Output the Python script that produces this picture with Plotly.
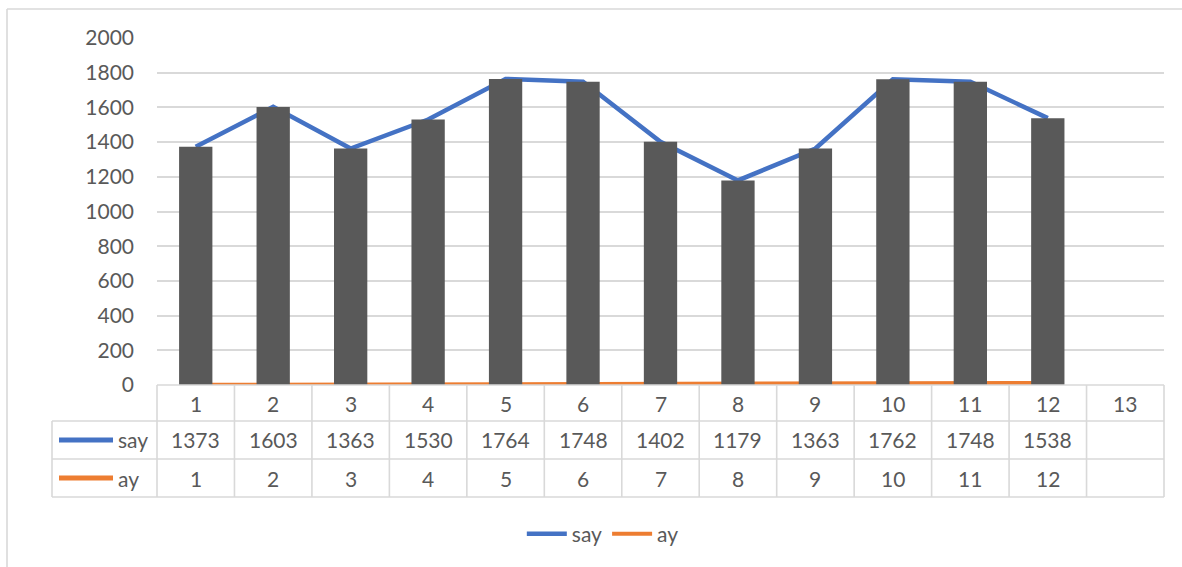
import plotly.graph_objects as go

# ---- data ----
categories = [str(i) for i in range(1, 14)]
say = [1373, 1603, 1363, 1530, 1764, 1748, 1402, 1179, 1363, 1762, 1748, 1538]
ay = [1, 2, 3, 4, 5, 6, 7, 8, 9, 10, 11, 12]
series_names = ["say", "ay"]
y_ticks = [0, 200, 400, 600, 800, 1000, 1200, 1400, 1600, 1800, 2000]

# ---- styles ----
W, H = 1182, 567
L, R, T, B = 157, 18, 38, 182
PW, PH = W - L - R, H - T - B
FONT = "Lato"
TXT = "#595959"
GRID = "#d9d9d9"
BLUE = "#4472C4"
ORANGE = "#ED7D31"
BARC = "#595959"
FS = 21


def px_x(px):
    return (px - L) / PW


def px_y(py):
    return (H - B - py) / PH


n_cat = len(categories)
fig = go.Figure()
fig.add_trace(go.Scatter(x=categories[:len(say)], y=say, mode="lines", name=series_names[0],
                         line=dict(color=BLUE, width=4.5)))
fig.add_trace(go.Scatter(x=categories[:len(ay)], y=ay, mode="lines", name=series_names[1],
                         line=dict(color=ORANGE, width=4)))
fig.add_trace(go.Bar(x=categories[:len(say)], y=say, marker=dict(color=BARC, line=dict(width=0)),
                     width=0.43, showlegend=False, yaxis="y2", hoverinfo="x+y"))

shapes = []
line_style = dict(color=GRID, width=1.6)
# table horizontal lines
shapes.append(dict(type="line", xref="paper", yref="paper", x0=0, x1=1, y0=0, y1=0, line=line_style))
for py in (421, 459, 497):
    shapes.append(dict(type="line", xref="paper", yref="paper", x0=px_x(52), x1=1,
                       y0=px_y(py), y1=px_y(py), line=line_style))
# table vertical lines
shapes.append(dict(type="line", xref="paper", yref="paper", x0=px_x(52), x1=px_x(52),
                   y0=px_y(421), y1=px_y(497), line=line_style))
for k in range(n_cat + 1):
    xp = k / n_cat
    shapes.append(dict(type="line", xref="paper", yref="paper", x0=xp, x1=xp,
                       y0=0, y1=px_y(497), line=line_style))
# series icons in table
for color, py in ((BLUE, 440), (ORANGE, 478)):
    shapes.append(dict(type="line", xref="paper", yref="paper", x0=px_x(59), x1=px_x(113),
                       y0=px_y(py), y1=px_y(py), line=dict(color=color, width=5)))
# outer chart border (top and left)
shapes.append(dict(type="line", xref="paper", yref="paper", x0=px_x(7), x1=px_x(W + 5),
                   y0=px_y(9), y1=px_y(9), line=line_style))
shapes.append(dict(type="line", xref="paper", yref="paper", x0=px_x(7), x1=px_x(7),
                   y0=px_y(9), y1=px_y(H + 5), line=line_style))

annotations = []
rows = [(categories, 403), ([str(v) for v in say], 440), ([str(v) for v in ay], 478)]
for labels, py in rows:
    for i, lab in enumerate(labels):
        # on a category axis, annotation x is the category index
        annotations.append(dict(x=i, xref="x", y=px_y(py), yref="paper", text=lab,
                                showarrow=False, xanchor="center", yanchor="middle",
                                font=dict(family=FONT, size=FS, color=TXT)))
for name, py in zip(series_names, (440, 478)):
    annotations.append(dict(x=px_x(116), xref="paper", y=px_y(py), yref="paper", text=name,
                            showarrow=False, xanchor="left", yanchor="middle",
                            font=dict(family=FONT, size=FS, color=TXT)))

fig.update_layout(
    width=W, height=H,
    margin=dict(l=L, r=R, t=T, b=B, pad=0),
    paper_bgcolor="white", plot_bgcolor="white",
    font=dict(family=FONT, size=FS, color=TXT),
    bargap=0.57,
    xaxis=dict(type="category", categoryorder="array", categoryarray=categories,
               range=[-0.5, n_cat - 0.5], showticklabels=False, showgrid=False,
               zeroline=False, showline=False, ticks=""),
    yaxis=dict(range=[0, 2000], tickvals=y_ticks, showgrid=True, gridcolor=GRID, gridwidth=1.6,
               zeroline=False, showline=False, ticks="", ticklabelstandoff=22,
               tickfont=dict(family=FONT, size=FS, color=TXT)),
    yaxis2=dict(range=[0, 2000], overlaying="y", visible=False),
    legend=dict(orientation="h", xref="container", yref="container", x=0.51, y=1 - 534 / H,
                xanchor="center", yanchor="middle", font=dict(family=FONT, size=FS, color=TXT),
                bgcolor="rgba(0,0,0,0)", itemwidth=40),
    shapes=shapes,
    annotations=annotations,
)

fig.write_html("out.html")
